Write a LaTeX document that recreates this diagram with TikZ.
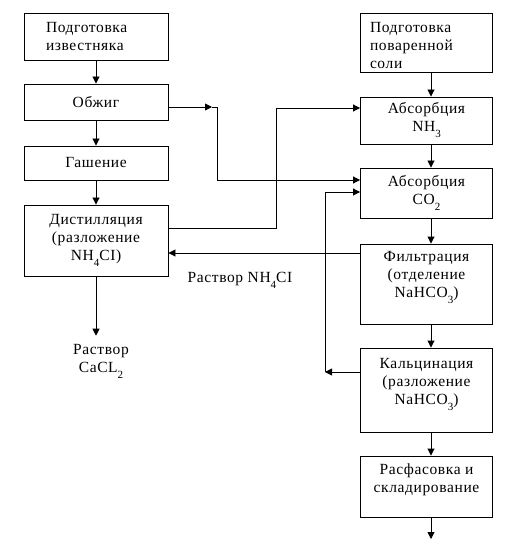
\documentclass[tikz,border=0pt]{standalone}
\usepackage{fontspec}
\setmainfont{Liberation Serif}[LetterSpace=4]
\usetikzlibrary{arrows.meta, positioning, calc}
\newcommand{\lowidx}[1]{\raisebox{-6pt}{\fontsize{11}{11}\selectfont #1}}

\begin{document}
\begin{tikzpicture}[x=1pt, y=-1pt,
  block/.style={draw, line width=0.9pt, minimum width=132pt, inner sep=0pt, align=center, font=\fontsize{15.5}{18}\selectfont},
  arr/.style={line width=0.9pt, -{Triangle[length=7pt, width=7pt]}},
  lbl/.style={inner sep=0pt, align=center, font=\fontsize{15.5}{18}\selectfont}]
  \useasboundingbox (0,0) rectangle (505,553);

  % Left column
  \node[block, minimum width=144pt, minimum height=47pt, text width=100pt, inner xsep=22pt, align=left] (limeprep) at (96,36.5) {Подготовка\\известняка};
  \node[block, minimum width=144pt, minimum height=36pt] (burn) at (96,102) {Обжиг};
  \node[block, minimum width=144pt, minimum height=34pt] (slake) at (96,163) {Гашение};
  \node[block, minimum width=144pt, minimum height=71pt] (distil) at (96,240.5) {Дистилляция\\(разложение\\NH\lowidx{4}CI)};

  % Right column
  \node[block, minimum height=59pt, text width=113pt, inner xsep=9.5pt, align=left] (saltprep) at (426.5,42.5) {\rule{0pt}{16pt}Подготовка\\поваренной\\соли};
  \node[block, minimum height=47pt] (absnh) at (426.5,120.5) {Абсорбция\\NH\lowidx{3}};
  \node[block, minimum height=50pt] (absco) at (426.5,193) {Абсорбция\\CO\lowidx{2}};
  \node[block, minimum height=80pt, text depth=20pt] (filtr) at (426.5,284) {Фильтрация\\(отделение\\NaHCO\lowidx{3})};
  \node[block, minimum height=84pt, text depth=18pt] (calcin) at (426.5,390) {Кальцинация\\(разложение\\NaHCO\lowidx{3})};
  \node[block, minimum height=61pt, text depth=16pt] (pack) at (426.5,486.5) {Расфасовка и\\складирование};

  % Labels
  \node[lbl] (cacl) at (101,361) {Раствор\\CaCL\lowidx{2}};
  \node[lbl] (nhsol) at (240,280) {Раствор NH\lowidx{4}CI};

  % Corner points
  \coordinate (rx) at (431,0);
  \coordinate (k0) at (212,107);
  \coordinate (k1) at (217,107);
  \coordinate (k2) at (217,180);
  \coordinate (k3) at (276,228);
  \coordinate (k4) at (276,108);
  \coordinate (k5) at (325,372);
  \coordinate (k6) at (325,192);
  \coordinate (k7) at (300,253);
  \coordinate (out) at (431,539);

  % Main flow
  \draw[arr] (limeprep) -- (burn);
  \draw[arr] (burn) -- (slake);
  \draw[arr] (slake) -- (distil);
  \draw[arr, shorten >=8pt] (distil.south) -- (distil.south |- cacl.north);
  \draw[arr] (saltprep.south -| rx) -- (absnh.north -| rx);
  \draw[arr] (absnh.south -| rx) -- (absco.north -| rx);
  \draw[arr] (absco.south -| rx) -- (filtr.north -| rx);
  \draw[arr] (filtr.south -| rx) -- (calcin.north -| rx);
  \draw[arr] (calcin.south -| rx) -- (pack.north -| rx);
  \draw[arr] (pack.south -| rx) -- (out);

  % Side streams
  \draw[arr] (burn.east |- k0) -- (k0);
  \draw[arr] (k0) -- (k1) -- (k2) -- (absco.west |- k2);
  \draw[arr] (distil.east |- k3) -- (k3) -- (k4) -- (absnh.west |- k4);
  \draw[arr] (filtr.west |- k7) -- (distil.east |- k7);
  \draw[arr] (calcin.west |- k5) -- (k5);
  \draw[arr] (k5) -- (k6) -- (absco.west |- k6);
\end{tikzpicture}
\end{document}
